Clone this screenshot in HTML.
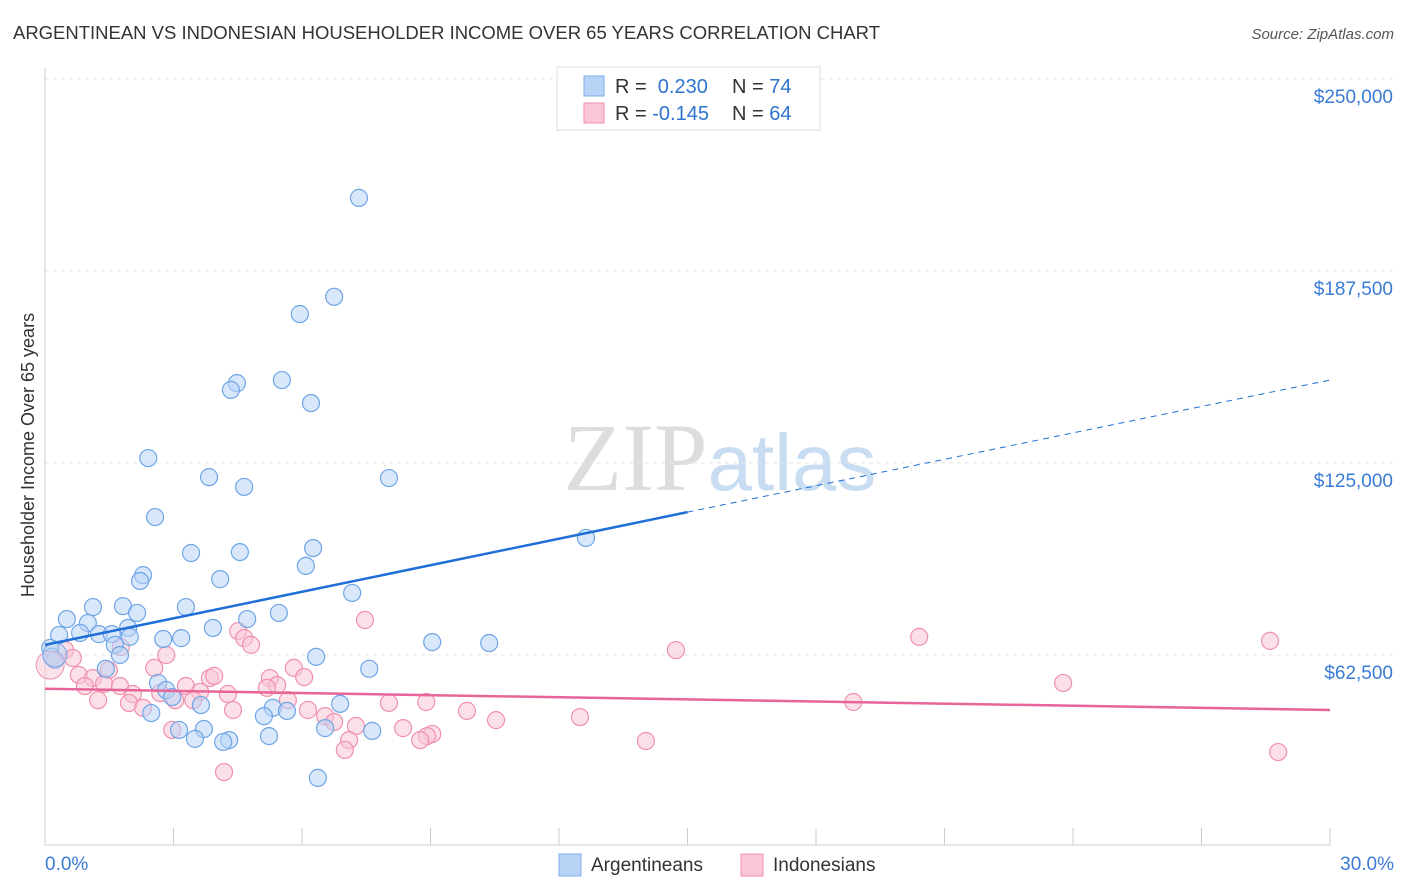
<!DOCTYPE html>
<html><head><meta charset="utf-8">
<style>
body{margin:0;background:#fff;font-family:"Liberation Sans",sans-serif;}
svg{display:block}
</style></head>
<body>
<svg id="chart" width="1406" height="892" xmlns="http://www.w3.org/2000/svg">
<text x="13" y="39" font-size="18.5" fill="#333" textLength="867" lengthAdjust="spacingAndGlyphs">ARGENTINEAN VS INDONESIAN HOUSEHOLDER INCOME OVER 65 YEARS CORRELATION CHART</text>
<text x="1394" y="39" font-size="15" fill="#555" text-anchor="end" font-style="italic">Source: ZipAtlas.com</text>
<text x="720" y="490" font-size="96" text-anchor="middle" fill="#ddd" font-family="Liberation Serif"><tspan>ZIP</tspan><tspan fill="#c8dcf2" font-family="Liberation Sans" font-size="80">atlas</tspan></text>
<text transform="translate(34,455) rotate(-90)" font-size="18" fill="#333" text-anchor="middle">Householder Income Over 65 years</text>
<g id="grid"></g><g id="marks"></g>
<g>
<rect x="557" y="67" width="263" height="63" fill="#fff" stroke="#ddd"/>
<rect x="584" y="76" width="20" height="20" fill="#b8d3f5" stroke="#7aaee8"/>
<rect x="584" y="103" width="20" height="20" fill="#f8c6d6" stroke="#f090ae"/>
<text x="615" y="93" font-size="20" fill="#333">R = <tspan fill="#2f73d0">&#160;0.230</tspan><tspan x="732">N = </tspan><tspan fill="#2f73d0">74</tspan></text>
<text x="615" y="120" font-size="20" fill="#333">R = <tspan fill="#2f73d0">-0.145</tspan><tspan x="732">N = </tspan><tspan fill="#2f73d0">64</tspan></text>
</g>
<g>
<rect x="559" y="854" width="22" height="22" fill="#b8d3f5" stroke="#7aaee8"/>
<text x="591" y="871" font-size="19" fill="#333">Argentineans</text>
<rect x="741" y="854" width="22" height="22" fill="#f8c6d6" stroke="#f090ae"/>
<text x="773" y="871" font-size="19" fill="#333">Indonesians</text>
</g>
</svg>
<script>
const xTicks=[0,3,6,9,12,15,18,21,24,27,30];
const yTicks=[62500,125000,187500,250000];
const yTickLabels=["$62,500","$125,000","$187,500","$250,000"];
const xLabels=["0.0%","30.0%"];
const blueX=[7.33,6.75,5.95,4.48,5.53,4.34,6.21,2.41,3.83,8.03,4.65,2.57,12.63,3.41,4.55,6.26,6.09,2.29,4.09,2.22,7.17,1.12,1.82,3.29,2.15,5.46,0.51,4.72,1.0,1.94,3.92,0.82,1.26,0.33,1.56,2.76,3.18,9.04,10.37,1.98,1.63,0.12,1.75,0.16,0.23,6.33,1.42,7.57,2.64,2.83,2.97,3.64,6.89,5.32,5.65,5.11,2.48,6.54,7.64,3.13,3.71,5.23,3.5,4.3,4.16,6.37];
const blueY=[211300,179100,173500,151000,152000,148800,144500,126600,120400,120100,117200,107400,100600,95700,96000,97300,91500,88500,87200,86600,82700,78100,78400,78100,76200,76200,74200,74200,72900,71300,71300,69700,69300,69000,69300,67700,68000,66700,66400,68400,65800,64800,62500,61900,60900,61900,58000,58000,53400,51100,48800,46200,46600,45300,44300,42600,43600,38700,37800,38100,38400,36100,35200,34800,34200,22500];
const pinkX=[7.47,4.51,4.65,4.81,20.41,28.6,14.73,1.77,0.47,0.65,2.83,1.49,2.55,5.81,0.79,1.12,3.85,3.95,5.25,6.05,1.38,1.75,3.29,5.42,23.77,5.18,0.93,2.05,2.69,3.62,4.27,1.24,1.96,3.04,3.46,5.67,8.03,8.9,18.87,2.29,4.39,6.14,9.85,6.54,6.75,10.53,12.49,7.26,8.36,9.04,8.92,8.76,2.97,7.1,14.03,7.0,4.18,28.79];
const pinkY=[73900,70300,68000,65800,68400,67100,64100,65100,64100,61500,62500,57600,58300,58300,56000,55000,55000,55700,55000,55300,53100,52400,52400,52700,53400,51800,52400,49800,50100,50500,49800,47800,46900,47800,47800,47800,46900,47200,47200,45300,44600,44600,44300,42600,40700,41300,42300,39400,38700,36800,36100,34800,38100,34800,34500,31600,24400,30900];
const bigBlue=[0.23,62500];
const bigPink=[0.12,59200];
const blueTrend=[0,65800,15,109000,30,152000];
const pinkTrend=[0,51500,30,44600];
const NS="http://www.w3.org/2000/svg";
const X=v=>45+v/30*1285;
const Y=v=>847-v/62500*192;
function mk(tag,attrs,parent){const e=document.createElementNS(NS,tag);for(const k in attrs)e.setAttribute(k,attrs[k]);parent.appendChild(e);return e;}
const grid=document.getElementById('grid'),marks=document.getElementById('marks');
mk('line',{x1:45,y1:68,x2:45,y2:845,stroke:'#ccc'},grid);
mk('line',{x1:45,y1:845,x2:1330,y2:845,stroke:'#ccc'},grid);
yTicks.forEach((t,i)=>{
 const l=mk('line',{x1:45,y1:Y(t),x2:1393,y2:Y(t),stroke:'#e3e3e3','stroke-dasharray':'4,4'},grid);
 
 
 const tx=mk('text',{x:1393,y:Y(t)+24,'font-size':19,fill:'#3a7bd5','text-anchor':'end'},grid);
 tx.textContent=yTickLabels[i];
 
 
});
mk('line',{x1:45,y1:79,x2:1393,y2:79,stroke:'#e3e3e3','stroke-dasharray':'4,4'},grid);
xTicks.forEach(t=>{
 const l=mk('line',{x1:X(t),y1:828,x2:X(t),y2:845,stroke:'#ccc'},grid);
 
 
});
[[0,'start',45],[30,'end',1394]].forEach((a,i)=>{
 const tx=mk('text',{x:a[2],y:870,'font-size':19,fill:'#3a7bd5','text-anchor':a[1]},grid);
 tx.textContent=xLabels[i];
 
 
});
function dots(xs,ys,fill,stroke,name){
 xs.forEach((x,i)=>{
  const c=mk('circle',{cx:X(x),cy:Y(ys[i]),r:8.5,fill:fill,'fill-opacity':0.55,stroke:stroke,'stroke-width':1.2},marks);
  
  
 });
}
dots(pinkX,pinkY,'#f8c6d6','#f090ae','indonesian-point');
dots(blueX,blueY,'#b8d3f5','#6fa5e6','argentinean-point');
let c=mk('circle',{cx:X(bigPink[0]),cy:Y(bigPink[1]),r:14,fill:'#f8c6d6','fill-opacity':0.5,stroke:'#f090ae'},marks);


c=mk('circle',{cx:X(bigBlue[0]),cy:Y(bigBlue[1]),r:12,fill:'#b8d3f5','fill-opacity':0.5,stroke:'#6fa5e6'},marks);


let l=mk('line',{x1:X(blueTrend[0]),y1:Y(blueTrend[1]),x2:X(blueTrend[2]),y2:Y(blueTrend[3]),stroke:'#1f6fd6','stroke-width':2.5},marks);


l=mk('line',{x1:X(blueTrend[2]),y1:Y(blueTrend[3]),x2:X(blueTrend[4]),y2:Y(blueTrend[5]),stroke:'#1f6fd6','stroke-width':1,'stroke-dasharray':'6,5'},marks);


l=mk('line',{x1:X(pinkTrend[0]),y1:Y(pinkTrend[1]),x2:X(pinkTrend[2]),y2:Y(pinkTrend[3]),stroke:'#e8659a','stroke-width':2.5},marks);


</script>
</body></html>
